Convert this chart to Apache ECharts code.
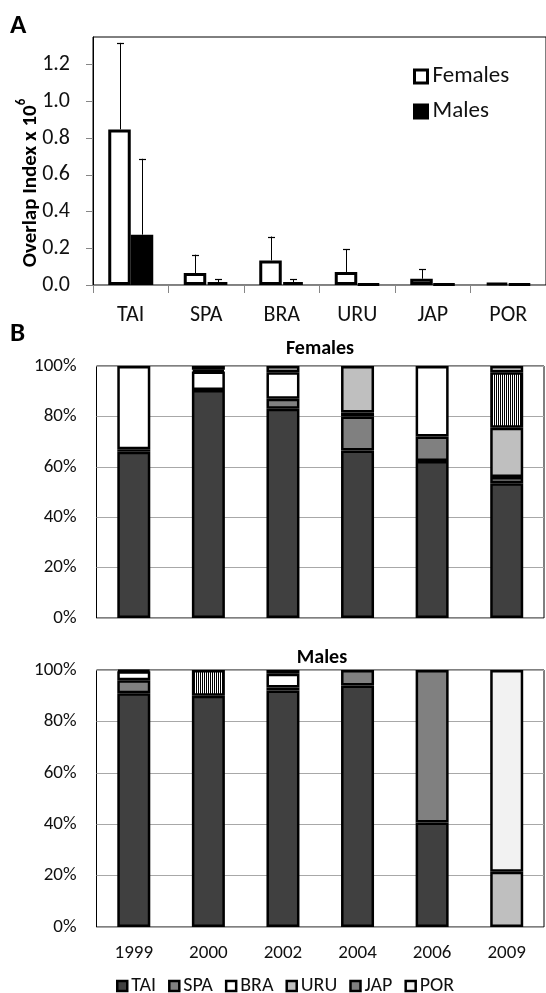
<!DOCTYPE html>
<html><head><meta charset="utf-8">
<script src="https://cdn.jsdelivr.net/npm/echarts@6/dist/echarts.min.js"></script>
<style>html,body{margin:0;padding:0;background:#fff}#c{width:546px;height:993px}</style>
</head><body><div id="c"></div>
<script>
// ---- Panel A data ----
const countries = ['TAI','SPA','BRA','URU','JAP','POR'];
const femaleOverlap = [0.847, 0.065, 0.134, 0.071, 0.034, 0.01];
const femaleSD      = [0.471, 0.100, 0.130, 0.125, 0.052, 0];
const maleOverlap   = [0.274, 0.015, 0.015, 0.005, 0.005, 0.005];
const maleSD        = [0.413, 0.016, 0.016, 0, 0, 0];
const overlapTicks  = [0, 0.2, 0.4, 0.6, 0.8, 1.0, 1.2];

// ---- Panel B data (percent of overlap by year) ----
const years = ['1999','2000','2002','2004','2006','2009'];
const femTAI = [66, 90.5, 83, 66.5, 62.3, 53.5];
const femSPA = [1, 0, 4, 13.5, 9.7, 2.5];
const femBRA = [33, 7.3, 10.5, 1.5, 28, 0];
const femURU = [0, 0.7, 2.5, 18.5, 0, 19.5];
const femJAP = [0, 1.5, 0, 0, 0, 22];
const femPOR = [0, 0, 0, 0, 0, 2.5];
const malTAI = [91, 90, 92, 94, 40.7, 0];
const malSPA = [5, 0, 1.2, 6, 59.3, 0];
const malBRA = [3.5, 0, 5.3, 0, 0, 0];
const malURU = [0.5, 0, 1.5, 0, 0, 21.5];
const malJAP = [0, 10, 0, 0, 0, 0];
const malPOR = [0, 0, 0, 0, 0, 78.5];

const FONT = 'Carlito, Lato, sans-serif';
const TXT = '#111';

// stripe pattern for JAP
const pc = document.createElement('canvas');
pc.width = 2; pc.height = 2;
const pctx = pc.getContext('2d');
pctx.fillStyle = '#fff'; pctx.fillRect(0,0,2,2);
pctx.fillStyle = '#000'; pctx.fillRect(0,0,1,2);
const stripe = {image: pc, repeat: 'repeat'};

const fills = {TAI:'#404040', SPA:'#808080', BRA:'#ffffff', URU:'#bfbfbf', JAP: stripe, POR:'#f2f2f2'};
const femSets = {TAI:femTAI, SPA:femSPA, BRA:femBRA, URU:femURU, JAP:femJAP, POR:femPOR};
const malSets = {TAI:malTAI, SPA:malSPA, BRA:malBRA, URU:malURU, JAP:malJAP, POR:malPOR};

const chart = echarts.init(document.getElementById('c'), null, {renderer:'canvas'});

const A_BW = 22.5;
function errItem(sign) {
  return function (params, api) {
    const sd = api.value(2);
    if (!sd) return null;
    const v = api.value(1);
    const base = api.coord([api.value(0), v]);
    const top = api.coord([api.value(0), v + sd]);
    const x = Math.round(base[0] + sign * A_BW / 2) + 0.5;
    return {
      type: 'group',
      children: [
        {type:'line', shape:{x1:x, y1:base[1], x2:x, y2:top[1]}, style:{stroke:'#000', lineWidth:1}},
        {type:'line', shape:{x1:x-3.5, y1:Math.round(top[1])+0.5, x2:x+3.5, y2:Math.round(top[1])+0.5}, style:{stroke:'#000', lineWidth:1.2}}
      ]
    };
  };
}

const series = [
  {name:'Females', type:'bar', xAxisIndex:0, yAxisIndex:0, data: femaleOverlap, barWidth:A_BW, barGap:'0%',
   itemStyle:{color:'#fff', borderColor:'#000', borderWidth:3}},
  {name:'Males', type:'bar', xAxisIndex:0, yAxisIndex:0, data: maleOverlap, barWidth:A_BW, barGap:'0%',
   itemStyle:{color:'#000', borderColor:'#000', borderWidth:3}},
  {type:'custom', xAxisIndex:0, yAxisIndex:0, renderItem: errItem(-1), z:5,
   data: countries.map((c,i)=>[i, femaleOverlap[i], femaleSD[i]])},
  {type:'custom', xAxisIndex:0, yAxisIndex:0, renderItem: errItem(1), z:5,
   data: countries.map((c,i)=>[i, maleOverlap[i], maleSD[i]])}
];
countries.forEach(c => {
  series.push({name:c, type:'bar', stack:'f', xAxisIndex:1, yAxisIndex:1, barWidth:33,
    data: femSets[c].map(v => v === 0 ? null : v),
    itemStyle:{color:fills[c], borderColor:'#000', borderWidth:2.5}});
});
countries.forEach(c => {
  series.push({name:c, type:'bar', stack:'m', xAxisIndex:2, yAxisIndex:2, barWidth:33,
    data: malSets[c].map(v => v === 0 ? null : v),
    itemStyle:{color:fills[c], borderColor:'#000', borderWidth:2.5}});
});

const option = {
  animation:false,
  backgroundColor:'#fff',
  textStyle:{fontFamily:FONT, color:TXT},
  grid:[
    {left:93, top:37, width:454, height:248, show:true, borderColor:'#000', borderWidth:1},
    {left:96.5, top:366, width:447.5, height:252, show:true, borderColor:'#000', borderWidth:1},
    {left:96.5, top:670, width:447.5, height:257, show:true, borderColor:'#000', borderWidth:1}
  ],
  xAxis:[
    {gridIndex:0, type:'category', data:countries,
     axisLine:{show:true, lineStyle:{color:'#868686'}},
     axisTick:{show:true, length:8, lineStyle:{color:'#868686'}},
     axisLabel:{fontSize:22, color:TXT, margin:19, fontFamily:FONT}},
    {gridIndex:1, type:'category', data:years,
     axisLine:{show:false}, axisTick:{show:false}, axisLabel:{show:false}},
    {gridIndex:2, type:'category', data:years,
     axisLine:{show:false}, axisTick:{show:false},
     axisLabel:{fontSize:19, color:TXT, margin:17, fontFamily:FONT}}
  ],
  yAxis:[
    {gridIndex:0, type:'value', min:0, max:1.35, interval:0.2,
     axisLine:{show:true, lineStyle:{color:'#000'}},
     axisTick:{show:true, length:7, lineStyle:{color:'#868686'}, customValues: overlapTicks},
     axisLabel:{fontSize:22, color:TXT, margin:23, fontFamily:FONT, customValues: overlapTicks,
       formatter: v => v.toFixed(1)},
     splitLine:{show:false}},
    {gridIndex:1, type:'value', min:0, max:100, interval:20,
     axisLine:{show:false}, axisTick:{show:false},
     axisLabel:{fontSize:19, color:TXT, margin:20, fontFamily:FONT, formatter:'{value}%'},
     splitLine:{show:true, lineStyle:{color:'#a8a8a8', width:1}}},
    {gridIndex:2, type:'value', min:0, max:100, interval:20,
     axisLine:{show:false}, axisTick:{show:false},
     axisLabel:{fontSize:19, color:TXT, margin:20, fontFamily:FONT, formatter:'{value}%'},
     splitLine:{show:true, lineStyle:{color:'#a8a8a8', width:1}}}
  ],
  legend:[
    {data:['Females','Males'], orient:'vertical', left:408, top:60, itemGap:12,
     icon:'rect', itemWidth:13, itemHeight:13, itemStyle:{borderColor:'#000', borderWidth:3},
     textStyle:{fontSize:23, color:TXT, fontFamily:FONT}, selectedMode:false},
    {data:countries, orient:'horizontal', left:111, top:971, itemGap:12,
     icon:'rect', itemWidth:10, itemHeight:10, itemStyle:{borderColor:'#000', borderWidth:2.5},
     textStyle:{fontSize:20, color:TXT, fontFamily:FONT, padding:[0,0,0,-1]}, selectedMode:false}
  ],
  graphic:[
    {type:'text', left:10, top:13, style:{text:'A', font:'bold 27px '+FONT, fill:'#000'}},
    {type:'text', left:10, top:321, style:{text:'B', font:'bold 27px '+FONT, fill:'#000'}},
    {type:'text', x:320, y:349, style:{text:'Females', font:'bold 20px '+FONT, fill:'#000', textAlign:'center', textVerticalAlign:'middle'}},
    {type:'text', x:322, y:658, style:{text:'Males', font:'bold 20px '+FONT, fill:'#000', textAlign:'center', textVerticalAlign:'middle'}},
    {type:'text', x:28, y:183, rotation:Math.PI/2,
     style:{text:'{a|Overlap Index x 10}{s|6}', textAlign:'center', textVerticalAlign:'middle', fill:'#000',
       rich:{a:{fontSize:21, fontWeight:'bold', fontFamily:FONT, lineHeight:26, verticalAlign:'bottom'},
             s:{fontSize:13, fontWeight:'bold', fontFamily:FONT, lineHeight:26, verticalAlign:'top'}}}}
  ],
  series: series
};
chart.setOption(option);
</script></body></html>
